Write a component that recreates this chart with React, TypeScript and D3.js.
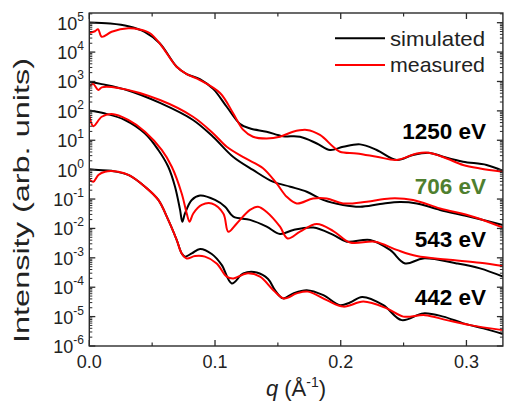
import React from "react";
import * as d3 from "d3";

// Scattering curves: each point is [q (Å⁻¹), log10 intensity]
const sim1250: [number, number][] = [
  [0, 5.01], [0.0165, 4.97], [0.031, 4.88], [0.044, 4.69], [0.056, 4.3], [0.0695, 3.5],
  [0.0775, 3.25], [0.088, 3.08], [0.0987, 2.74], [0.1093, 2.14], [0.12, 1.55], [0.128, 1.4],
  [0.141, 1.29], [0.154, 1.14], [0.1676, 1.12], [0.181, 0.89], [0.1915, 0.67], [0.202, 0.78],
  [0.2154, 0.86], [0.2286, 0.67], [0.2446, 0.33], [0.2575, 0.5], [0.271, 0.57], [0.2814, 0.44],
  [0.2973, 0.27], [0.316, 0.16], [0.329, -0.04],
];
const meas1250: [number, number][] = [
  [0, 4.65], [0.0045, 4.71], [0.007, 4.78], [0.0099, 4.52], [0.0178, 4.69], [0.031, 4.81],
  [0.04, 4.77], [0.048, 4.65], [0.056, 4.3], [0.0695, 3.5], [0.0775, 3.25], [0.088, 3.05],
  [0.104, 2.61], [0.1143, 1.93], [0.1223, 1.36], [0.1302, 1.12], [0.141, 1.06], [0.1517, 1.12],
  [0.162, 1.29], [0.173, 1.35], [0.1835, 1.18], [0.194, 0.78], [0.1994, 0.61], [0.2127, 0.55],
  [0.2286, 0.44], [0.2446, 0.33], [0.2605, 0.55], [0.271, 0.57], [0.2843, 0.38], [0.2973, 0.16],
  [0.3108, 0.04], [0.329, -0.07],
];
const sim706: [number, number][] = [
  [0, 2.99], [0.0099, 2.91], [0.0298, 2.71], [0.0562, 2.27], [0.0825, 1.69], [0.0984, 1.12],
  [0.1143, 0.44], [0.1302, -0.01], [0.146, -0.41], [0.1599, -0.58], [0.173, -0.75], [0.186, -1.03],
  [0.2018, -1.2], [0.2154, -1.26], [0.2313, -1.17], [0.2472, -1.1], [0.2605, -1.15], [0.279, -1.37],
  [0.3002, -1.58], [0.329, -1.88],
];
const meas706: [number, number][] = [
  [0, 2.84], [0.0032, 2.91], [0.0072, 2.71], [0.0099, 2.8], [0.023, 2.78], [0.0562, 2.37],
  [0.0825, 1.8], [0.0984, 1.24], [0.1093, 0.78], [0.124, 0.39], [0.1382, 0.05], [0.149, -0.47],
  [0.157, -0.92], [0.165, -1.15], [0.178, -0.98], [0.1889, -0.98], [0.2018, -1.15], [0.2207, -1.09],
  [0.2392, -0.98], [0.2575, -1.03], [0.279, -1.32], [0.3053, -1.6], [0.329, -1.97],
];
const sim543: [number, number][] = [
  [0, 2.01], [0.0125, 1.91], [0.0284, 1.69], [0.0443, 1.23], [0.0549, 0.67], [0.0628, 0.1],
  [0.0682, -0.58], [0.0722, -1.37], [0.074, -1.77], [0.0761, -1.49], [0.0815, -1.03], [0.0881, -0.88],
  [0.1, -1.03], [0.108, -1.26], [0.1146, -1.6], [0.1279, -1.71], [0.1411, -1.94], [0.1517, -2.19],
  [0.1623, -2.05], [0.1782, -1.97], [0.1941, -2.22], [0.2048, -2.45], [0.2233, -2.39], [0.2392, -2.73],
  [0.2512, -3.19], [0.2657, -3.02], [0.2923, -3.19], [0.3108, -3.36], [0.329, -3.64],
];
const meas543: [number, number][] = [
  [0, 1.86], [0.0032, 1.48], [0.0099, 1.8], [0.0178, 1.89], [0.031, 1.69], [0.0443, 1.29],
  [0.0576, 0.67], [0.0656, 0.1], [0.0735, -0.81], [0.0775, -1.49], [0.0797, -1.77], [0.0827, -1.49],
  [0.0894, -1.2], [0.0974, -1.15], [0.1066, -1.49], [0.1106, -2.11], [0.1173, -1.83], [0.1278, -1.37],
  [0.1342, -1.26], [0.1411, -1.44], [0.1517, -1.94], [0.1577, -2.34], [0.1676, -2.11], [0.1809, -1.85],
  [0.1941, -2.09], [0.2074, -2.48], [0.2273, -2.45], [0.2446, -2.73], [0.2605, -2.94], [0.2843, -3.06],
  [0.3108, -3.17], [0.329, -3.28],
];
const sim442: [number, number][] = [
  [0, 0.01], [0.0072, -0.01], [0.0178, -0.04], [0.031, -0.18], [0.0443, -0.58], [0.0549, -1.03],
  [0.0628, -1.71], [0.0695, -2.39], [0.0735, -2.85], [0.0761, -2.96], [0.0815, -2.85], [0.0881, -2.7],
  [0.0974, -2.87], [0.1053, -3.24], [0.1133, -3.87], [0.1225, -3.53], [0.1332, -3.5], [0.1422, -3.72],
  [0.1477, -4.1], [0.1541, -4.38], [0.1623, -4.21], [0.173, -4.1], [0.1862, -4.27], [0.1994, -4.61],
  [0.2074, -4.52], [0.217, -4.33], [0.2339, -4.61], [0.2485, -5.12], [0.2657, -4.89], [0.2816, -5.0],
  [0.2975, -5.23], [0.3134, -5.4], [0.329, -5.59],
];
const meas442: [number, number][] = [
  [0, -0.33], [0.0032, -0.41], [0.0072, -0.18], [0.0125, -0.07], [0.023, -0.07], [0.0324, -0.2],
  [0.0443, -0.58], [0.0549, -1.03], [0.0628, -1.71], [0.0695, -2.39], [0.0735, -2.85], [0.0775, -3.02],
  [0.0841, -2.94], [0.092, -2.96], [0.1013, -3.19], [0.1093, -3.64], [0.1146, -3.7], [0.1252, -3.53],
  [0.1358, -3.64], [0.1464, -4.1], [0.1549, -4.38], [0.165, -4.21], [0.174, -4.15], [0.1889, -4.44],
  [0.2021, -4.66], [0.218, -4.49], [0.2366, -4.72], [0.2498, -5.0], [0.267, -4.95], [0.2843, -5.12],
  [0.3029, -5.29], [0.329, -5.46],
];

const energyLabels = ["1250 eV", "706 eV", "543 eV", "442 eV"];
const energyLabelLevels = [1.03, -0.83, -2.62, -4.6]; // log10 position of each label baseline
const energyLabelColors = ["#000000", "#4f7f2f", "#000000", "#000000"];
const xTicks = [0, 0.1, 0.2, 0.3];
const xMinorTicks = [0.05, 0.15, 0.25];
const yDecades = [-6, -5, -4, -3, -2, -1, 0, 1, 2, 3, 4, 5];
const legendLabels = ["simulated", "measured"];

const W = 508;
const H = 404;
const left = 89.3;
const right = 502.9;
const top = 13;
const bottom = 346;

export default function App() {
  const x = d3.scaleLinear().domain([0, 0.329]).range([left, right]);
  const y = d3.scaleLog().domain([1e-6, Math.pow(10, 5.33)]).range([bottom, top]);

  const line = d3
    .line<[number, number]>()
    .x((d) => x(d[0]))
    .y((d) => y(Math.pow(10, d[1])))
    .curve(d3.curveCatmullRom.alpha(0.5));

  const pairs: [[number, number][], [number, number][]][] = [
    [sim1250, meas1250],
    [sim706, meas706],
    [sim543, meas543],
    [sim442, meas442],
  ];

  const minor: number[] = [];
  yDecades.forEach((e) => {
    for (let m = 2; m <= 9; m++) {
      const v = m * Math.pow(10, e);
      if (v < Math.pow(10, 5.33)) minor.push(v);
    }
  });

  const font = "Arial, 'Liberation Sans', Helvetica, sans-serif";
  const axisColor = "#2b2b2b";

  return (
    <svg
      width={W}
      height={H}
      style={{ position: "absolute", left: 0, top: 0, background: "#fff" }}
      fontFamily={font}
    >
      <defs>
        <clipPath id="plotArea">
          <rect x={left} y={top} width={right - left} height={bottom - top} />
        </clipPath>
      </defs>

      <g clipPath="url(#plotArea)" fill="none" strokeWidth={2} strokeLinejoin="round">
        {pairs.map(([s, m], i) => (
          <g key={i}>
            <path d={line(s) || ""} stroke="#000" />
            <path d={line(m) || ""} stroke="#ff0000" />
          </g>
        ))}
      </g>

      {/* frame */}
      <rect
        x={left}
        y={top}
        width={right - left}
        height={bottom - top}
        fill="none"
        stroke={axisColor}
        strokeWidth={1.4}
      />

      {/* x ticks */}
      {xTicks.map((t) => (
        <g key={"xt" + t} stroke={axisColor} strokeWidth={1.3}>
          <line x1={x(t)} x2={x(t)} y1={bottom} y2={bottom - 6} />
          <line x1={x(t)} x2={x(t)} y1={top} y2={top + 6} />
        </g>
      ))}
      {xMinorTicks.map((t) => (
        <g key={"xm" + t} stroke={axisColor} strokeWidth={1.2}>
          <line x1={x(t)} x2={x(t)} y1={bottom} y2={bottom - 3.5} />
          <line x1={x(t)} x2={x(t)} y1={top} y2={top + 3.5} />
        </g>
      ))}
      {xTicks.map((t) => (
        <text
          key={"xl" + t}
          x={x(t)}
          y={368}
          fontSize={18}
          textAnchor="middle"
          fill="#222"
        >
          {t.toFixed(1)}
        </text>
      ))}

      {/* y ticks */}
      {yDecades.map((e) => {
        const yy = y(Math.pow(10, e));
        return (
          <g key={"yt" + e} stroke={axisColor} strokeWidth={1.3}>
            <line x1={left} x2={left + 6} y1={yy} y2={yy} />
            <line x1={right} x2={right - 6} y1={yy} y2={yy} />
          </g>
        );
      })}
      {minor.map((v, i) => {
        const yy = y(v);
        return (
          <g key={"ym" + i} stroke={axisColor} strokeWidth={1}>
            <line x1={left} x2={left + 3} y1={yy} y2={yy} />
            <line x1={right} x2={right - 3} y1={yy} y2={yy} />
          </g>
        );
      })}
      {yDecades.map((e) => {
        const yy = y(Math.pow(10, e));
        return (
          <text key={"yl" + e} x={84} y={yy + 7} fontSize={18} textAnchor="end" fill="#222">
            10
            <tspan fontSize={12} dy={-9}>
              {e < 0 ? "-" + Math.abs(e) : String(e)}
            </tspan>
          </text>
        );
      })}

      {/* axis titles */}
      <text
        transform={`translate(29,200.5) rotate(-90)`}
        fontSize={22}
        textAnchor="middle"
        fill="#222"
        textLength={285}
        lengthAdjust="spacingAndGlyphs"
      >
        Intensity (arb. units)
      </text>
      <text x={296} y={396} fontSize={22} textAnchor="middle" fill="#222">
        <tspan fontStyle="italic">q</tspan> (Å
        <tspan fontSize={14} dy={-9}>
          -1
        </tspan>
        <tspan dy={9}>)</tspan>
      </text>

      {/* legend */}
      {legendLabels.map((lab, i) => (
        <g key={lab}>
          <line
            x1={335}
            x2={385}
            y1={38.3 + i * 26.7}
            y2={38.3 + i * 26.7}
            stroke={i === 0 ? "#000" : "#ff0000"}
            strokeWidth={2}
          />
          <text x={390} y={45.5 + i * 26.7} fontSize={21} fill="#222" textLength={95} lengthAdjust="spacingAndGlyphs">
            {lab}
          </text>
        </g>
      ))}

      {/* energy labels */}
      {energyLabels.map((lab, i) => (
        <text
          key={lab}
          x={486}
          y={y(Math.pow(10, energyLabelLevels[i]))}
          fontSize={22.5}
          fontWeight="bold"
          textAnchor="end"
          fill={energyLabelColors[i]}
        >
          {lab}
        </text>
      ))}
    </svg>
  );
}
